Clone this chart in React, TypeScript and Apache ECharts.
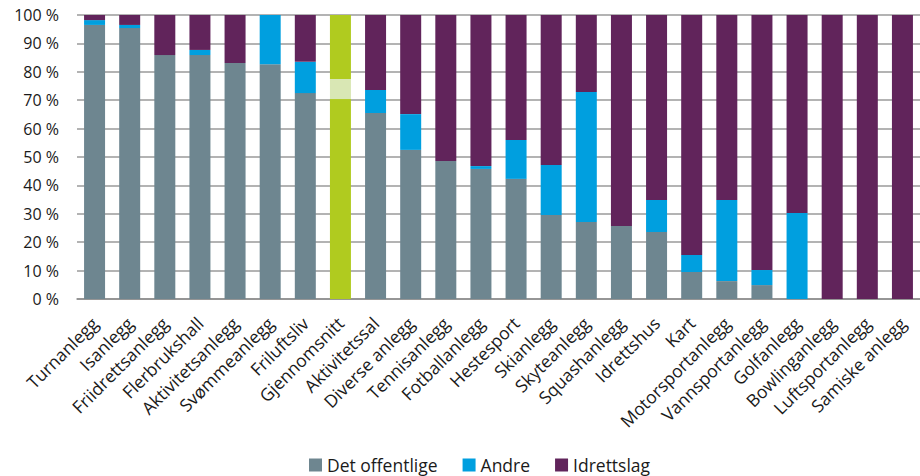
import React, { useEffect, useRef } from "react";
import * as echarts from "echarts";

const categories = [
  "Turnanlegg", "Isanlegg", "Friidrettsanlegg", "Flerbrukshall", "Aktivitetsanlegg",
  "Svømmeanlegg", "Friluftsliv", "Gjennomsnitt", "Aktivitetssal", "Diverse anlegg",
  "Tennisanlegg", "Fotballanlegg", "Hestesport", "Skianlegg", "Skyteanlegg",
  "Squashanlegg", "Idrettshus", "Kart", "Motorsportanlegg", "Vannsportanlegg",
  "Golfanlegg", "Bowlinganlegg", "Luftsportanlegg", "Samiske anlegg",
];

const detOffentlige = [96.5, 95.4, 85.9, 85.9, 83.1, 82.7, 72.5, 70.4, 65.5, 52.5, 48.6, 45.8, 42.3, 29.6, 27.1, 25.7, 23.6, 9.5, 6.3, 4.9, 0, 0, 0, 0];
const andre = [1.7, 1.1, 0, 1.8, 0, 17.3, 11.0, 7.1, 8.1, 12.6, 0, 1.0, 13.7, 17.6, 45.8, 0, 11.3, 6.0, 28.6, 5.3, 30.3, 0, 0, 0];
const idrettslag = [1.8, 3.5, 14.1, 12.3, 16.9, 0, 16.5, 22.5, 26.4, 34.9, 51.4, 53.2, 44.0, 52.8, 27.1, 74.3, 65.1, 84.5, 65.1, 89.8, 69.7, 100, 100, 100];

const yTicks = [0, 10, 20, 30, 40, 50, 60, 70, 80, 90, 100];

const GREY = "#6E8690";
const BLUE = "#009FDF";
const PURPLE = "#61245B";
const LIME = "#B0CB1F";
const LIME_LIGHT = "#D9E7B4";
const HIGHLIGHT = "Gjennomsnitt";

const FONT = "'Open Sans', sans-serif";

function withHighlight(values: number[], color: string) {
  return values.map((v, i) =>
    categories[i] === HIGHLIGHT ? { value: v, itemStyle: { color } } : v
  );
}

export default function App() {
  const ref = useRef<HTMLDivElement>(null);
  useEffect(() => {
    if (!ref.current) return;
    const chart = echarts.init(ref.current, undefined, { renderer: "svg" });
    chart.setOption({
      animation: false,
      textStyle: { fontFamily: FONT },
      grid: { left: 77, right: -3, top: 15, bottom: 177, containLabel: false },
      legend: {
        left: 309,
        top: 456,
        padding: 0,
        itemWidth: 13,
        itemHeight: 13,
        itemGap: 25,
        icon: "rect",
        textStyle: { fontSize: 17.5, color: "#1a1a1a", fontFamily: FONT },
        data: ["Det offentlige", "Andre", "Idrettslag"],
      },
      xAxis: {
        type: "category",
        data: categories,
        axisLine: { lineStyle: { color: "#8c8c8c", width: 1.5 } },
        axisTick: { show: false },
        axisLabel: {
          interval: 0,
          rotate: 45,
          fontSize: 17.5,
          color: "#1a1a1a",
          fontFamily: FONT,
          margin: 21,
        },
      },
      yAxis: {
        type: "value",
        min: yTicks[0],
        max: yTicks[yTicks.length - 1],
        interval: 10,
        axisLine: { show: false },
        axisTick: { show: false },
        splitLine: { lineStyle: { color: "#9a9a9a", width: 1.5 } },
        axisLabel: {
          fontSize: 16,
          color: "#1a1a1a",
          fontFamily: FONT,
          margin: 18,
          formatter: (v: number) => `${v} %`,
        },
      },
      series: [
        {
          name: "Det offentlige",
          type: "bar",
          stack: "total",
          barWidth: 21,
          itemStyle: { color: GREY },
          data: withHighlight(detOffentlige, LIME),
        },
        {
          name: "Andre",
          type: "bar",
          stack: "total",
          barWidth: 21,
          itemStyle: { color: BLUE },
          data: withHighlight(andre, LIME_LIGHT),
        },
        {
          name: "Idrettslag",
          type: "bar",
          stack: "total",
          barWidth: 21,
          itemStyle: { color: PURPLE },
          data: withHighlight(idrettslag, LIME),
        },
      ],
    });
    return () => chart.dispose();
  }, []);
  return (
    <div
      ref={ref}
      style={{ position: "fixed", left: 0, top: 0, width: 920, height: 476, background: "#fff" }}
    />
  );
}
